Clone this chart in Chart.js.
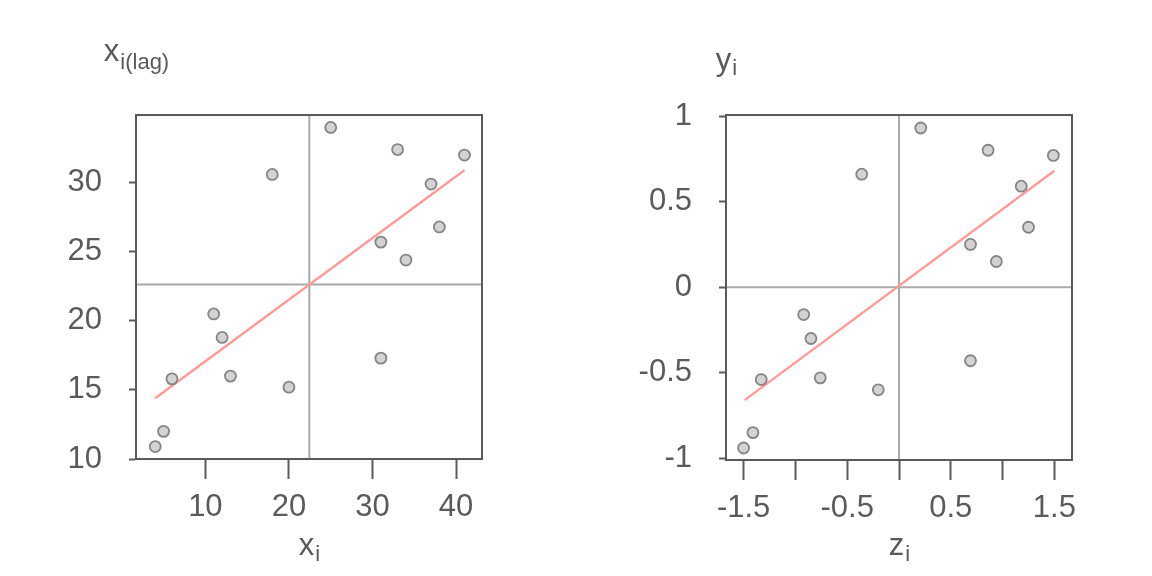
<!DOCTYPE html>
<html>
<head>
<meta charset="utf-8">
<script src="https://cdn.jsdelivr.net/npm/chart.js@4/dist/chart.umd.min.js"></script>
<style>
  html, body { margin: 0; padding: 0; background: #fff; }
  #wrap { position: relative; width: 1152px; height: 576px; }
  canvas { position: absolute; top: 0; }
  #left { left: 0; }
  #right { left: 576px; }
</style>
</head>
<body>
<div id="wrap">
  <canvas id="left" width="576" height="576"></canvas>
  <canvas id="right" width="576" height="576"></canvas>
</div>
<script>
// left panel: raw values and their spatial lag
const xVals = [4, 5, 6, 11, 12, 13, 18, 20, 25, 31, 31, 33, 34, 37, 38, 41];
const xLag  = [10.9, 12.0, 15.8, 20.5, 18.8, 16.0, 30.6, 15.2, 34.0, 25.7, 17.3, 32.4, 24.4, 29.9, 26.8, 32.0];
const xMean = 22.44;
const xLagMean = 22.63;
const xFitX = [4, 41];
const xFitY = [14.4, 30.9];
const leftXTicks = [10, 20, 30, 40];
const leftXLabels = ["10", "20", "30", "40"];
const leftYTicks = [10, 15, 20, 25, 30];
const leftYLabels = ["10", "15", "20", "25", "30"];

// right panel: standardised values and their lag
const zVals = [-1.50, -1.41, -1.33, -0.92, -0.85, -0.76, -0.36, -0.20, 0.21, 0.69, 0.69, 0.86, 0.94, 1.18, 1.25, 1.49];
const yVals = [-0.94, -0.85, -0.54, -0.16, -0.30, -0.53, 0.66, -0.60, 0.93, 0.25, -0.43, 0.80, 0.15, 0.59, 0.35, 0.77];
const zMean = 0;
const yMean = 0;
const zFitX = [-1.49, 1.50];
const zFitY = [-0.66, 0.68];
const rightXTicks = [-1.5, -1, -0.5, 0, 0.5, 1, 1.5];
const rightXLabels = ["-1.5", "", "-0.5", "", "0.5", "", "1.5"];
const rightYTicks = [-1, -0.5, 0, 0.5, 1];
const rightYLabels = ["-1", "-0.5", "0", "0.5", "1"];

const INK = "#5a5a5a";
const FONT = "'Liberation Sans', Arial, sans-serif";

const pairs = (a, b) => a.map((v, i) => ({ x: v, y: b[i] }));

// box on all four sides + axis titles with subscripts
const frame = {
  id: "frame",
  afterDraw(chart, args, opts) {
    const { ctx, chartArea: a } = chart;
    ctx.save();
    ctx.strokeStyle = INK;
    ctx.lineWidth = 2;
    ctx.strokeRect(a.left, a.top, a.right - a.left, a.bottom - a.top);
    ctx.fillStyle = INK;
    ctx.textBaseline = "alphabetic";
    opts.titles.forEach(t => {
      ctx.font = "31px " + FONT;
      const w1 = ctx.measureText(t.main).width;
      ctx.font = "22px " + FONT;
      const w2 = ctx.measureText(t.sub).width;
      const cx = t.at === "left" ? a.left : (a.left + a.right) / 2;
      const x0 = cx - (w1 + w2) / 2;
      ctx.font = "31px " + FONT;
      ctx.fillText(t.main, x0, t.y);
      ctx.font = "22px " + FONT;
      ctx.fillText(t.sub, x0 + w1 + 1, t.y + t.drop);
    });
    ctx.restore();
  }
};

function makeChart(el, p) {
  const setTicks = (vals) => (s) => { s.ticks = vals.map(v => ({ value: v })); };
  return new Chart(el, {
    type: "scatter",
    data: {
      datasets: [
        {
          data: pairs(p.px, p.py),
          pointRadius: 5.5,
          pointBackgroundColor: "#d3d3d3",
          pointBorderColor: "#858585",
          pointBorderWidth: 1.8,
          order: 0
        },
        {
          data: pairs(p.fitX, p.fitY),
          showLine: true, pointRadius: 0,
          borderColor: "#ff9a9a", borderWidth: 2.4,
          order: 1
        },
        {
          data: [{ x: p.mx, y: p.yMin }, { x: p.mx, y: p.yMax }],
          showLine: true, pointRadius: 0,
          borderColor: "#aaaaaa", borderWidth: 2,
          order: 2
        },
        {
          data: [{ x: p.xMin, y: p.my }, { x: p.xMax, y: p.my }],
          showLine: true, pointRadius: 0,
          borderColor: "#aaaaaa", borderWidth: 2,
          order: 2
        }
      ]
    },
    options: {
      responsive: false,
      animation: false,
      devicePixelRatio: 1,
      layout: { padding: { left: 0, right: p.padRight, top: 115, bottom: 0 } },
      plugins: {
        legend: { display: false },
        tooltip: { enabled: false },
        frame: { titles: p.titles }
      },
      scales: {
        x: {
          type: "linear", min: p.xMin, max: p.xMax,
          afterBuildTicks: setTicks(p.xTicks),
          afterFit: (s) => { s.height = p.xAxisH; },
          ticks: {
            callback: (v, i) => p.xLabels[i],
            autoSkip: false, maxRotation: 0, padding: 10,
            color: INK, font: { family: FONT, size: 31 }
          },
          grid: { drawOnChartArea: false, drawTicks: true, tickLength: 20, tickColor: INK, tickWidth: 2 },
          border: { display: true, color: INK, width: 2 }
        },
        y: {
          type: "linear", min: p.yMin, max: p.yMax,
          afterBuildTicks: setTicks(p.yTicks),
          afterFit: (s) => { s.width = p.yAxisW; },
          ticks: {
            callback: (v, i) => p.yLabels[i],
            autoSkip: false, padding: 27,
            color: INK, font: { family: FONT, size: 31 }
          },
          grid: { drawOnChartArea: false, drawTicks: true, tickLength: 7, tickColor: INK, tickWidth: 2 },
          border: { display: true, color: INK, width: 2 }
        }
      }
    },
    plugins: [frame]
  });
}

makeChart(document.getElementById("left"), {
  px: xVals, py: xLag, fitX: xFitX, fitY: xFitY, mx: xMean, my: xLagMean,
  xMin: 1.7, xMax: 43.1, yMin: 10, yMax: 34.9,
  xTicks: leftXTicks, xLabels: leftXLabels, yTicks: leftYTicks, yLabels: leftYLabels,
  yAxisW: 136, xAxisH: 117, padRight: 94,
  titles: [
    { main: "x", sub: "i(lag)", at: "left", y: 61, drop: 8 },
    { main: "x", sub: "i", at: "center", y: 555, drop: 6 }
  ]
});

makeChart(document.getElementById("right"), {
  px: zVals, py: yVals, fitX: zFitX, fitY: zFitY, mx: zMean, my: yMean,
  xMin: -1.67, xMax: 1.67, yMin: -1.01, yMax: 1.006,
  xTicks: rightXTicks, xLabels: rightXLabels, yTicks: rightYTicks, yLabels: rightYLabels,
  yAxisW: 150, xAxisH: 116, padRight: 80,
  titles: [
    { main: "y", sub: "i", at: "left", y: 70, drop: 5 },
    { main: "z", sub: "i", at: "center", y: 555, drop: 6 }
  ]
});
</script>
</body>
</html>
